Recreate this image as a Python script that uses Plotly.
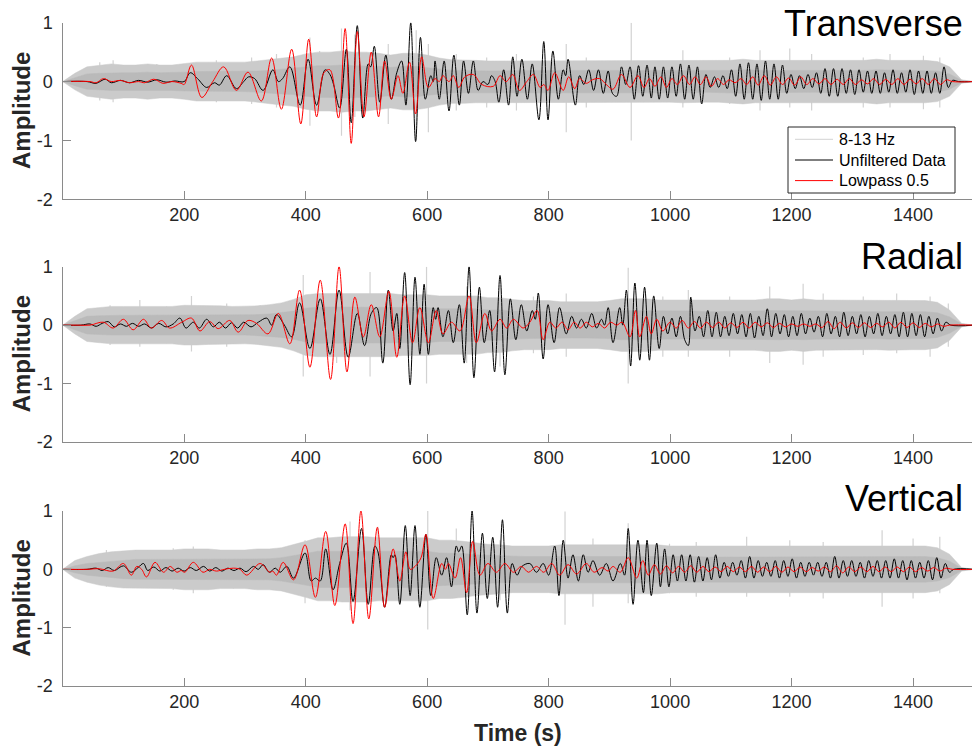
import plotly.graph_objects as go

# ---------------- data ----------------
PANEL_NAMES = ["Transverse", "Radial", "Vertical"]
TIME_TICKS = [200, 400, 600, 800, 1000, 1200, 1400]
AMP_TICKS = [-2, -1, 0, 1]
LEGEND_NAMES = ["8-13 Hz", "Unfiltered Data", "Lowpass 0.5"]

# 8-13 Hz trace, read as half-widths of its dense gray band every 20 s:
# OUTER = light outer fringe, CORE = darker inner core
ENV_T = list(range(0, 1501, 20))
TRANS_OUTER = [0, 0.14, 0.25, 0.27, 0.3, 0.28, 0.28, 0.3, 0.28, 0.28,
               0.3, 0.33, 0.33, 0.33, 0.33, 0.33, 0.35, 0.37, 0.4, 0.42,
               0.47, 0.5, 0.5, 0.52, 0.5, 0.5, 0.48, 0.45, 0.48, 0.48,
               0.45, 0.4, 0.37, 0.37, 0.36, 0.35, 0.35, 0.36, 0.36, 0.36,
               0.36, 0.36, 0.36, 0.35, 0.36, 0.36, 0.36, 0.36, 0.35, 0.35,
               0.35, 0.36, 0.36, 0.35, 0.35, 0.36, 0.38, 0.36, 0.36, 0.36,
               0.36, 0.35, 0.35, 0.36, 0.36, 0.36, 0.36, 0.38, 0.36, 0.36,
               0.36, 0.36, 0.34, 0.25, 0.03, 0]
TRANS_CORE = [0, 0.07, 0.13, 0.14, 0.15, 0.15, 0.15, 0.16, 0.15, 0.15,
              0.16, 0.17, 0.17, 0.17, 0.17, 0.17, 0.18, 0.19, 0.21, 0.22,
              0.25, 0.27, 0.27, 0.28, 0.27, 0.27, 0.26, 0.24, 0.26, 0.26,
              0.24, 0.21, 0.19, 0.19, 0.18, 0.18, 0.18, 0.19, 0.19, 0.19,
              0.19, 0.19, 0.19, 0.18, 0.19, 0.19, 0.19, 0.19, 0.18, 0.18,
              0.18, 0.19, 0.19, 0.18, 0.18, 0.19, 0.2, 0.19, 0.19, 0.19,
              0.19, 0.18, 0.18, 0.19, 0.19, 0.19, 0.19, 0.2, 0.19, 0.19,
              0.19, 0.19, 0.18, 0.13, 0.02, 0]
RADIAL_OUTER = [0, 0.15, 0.28, 0.3, 0.32, 0.32, 0.32, 0.32, 0.32, 0.32,
                0.34, 0.34, 0.33, 0.33, 0.32, 0.32, 0.33, 0.35, 0.38, 0.44,
                0.52, 0.54, 0.54, 0.54, 0.54, 0.54, 0.54, 0.54, 0.52, 0.52,
                0.52, 0.5, 0.5, 0.5, 0.5, 0.47, 0.47, 0.44, 0.42, 0.42,
                0.42, 0.4, 0.4, 0.4, 0.4, 0.42, 0.45, 0.45, 0.45, 0.43,
                0.43, 0.43, 0.43, 0.42, 0.42, 0.42, 0.43, 0.43, 0.45, 0.45,
                0.43, 0.45, 0.43, 0.43, 0.42, 0.42, 0.42, 0.42, 0.43, 0.43,
                0.42, 0.42, 0.39, 0.26, 0.03, 0]
RADIAL_CORE = [0, 0.08, 0.15, 0.16, 0.17, 0.17, 0.17, 0.17, 0.17, 0.17,
               0.18, 0.18, 0.18, 0.18, 0.17, 0.17, 0.18, 0.19, 0.21, 0.24,
               0.29, 0.31, 0.31, 0.31, 0.31, 0.31, 0.31, 0.31, 0.3, 0.3,
               0.3, 0.28, 0.28, 0.28, 0.28, 0.26, 0.26, 0.24, 0.23, 0.23,
               0.23, 0.22, 0.22, 0.22, 0.22, 0.23, 0.25, 0.25, 0.25, 0.24,
               0.24, 0.24, 0.24, 0.23, 0.23, 0.23, 0.24, 0.24, 0.25, 0.25,
               0.24, 0.25, 0.24, 0.24, 0.23, 0.23, 0.23, 0.23, 0.24, 0.24,
               0.23, 0.23, 0.21, 0.14, 0.02, 0]
VERT_OUTER = [0, 0.15, 0.22, 0.27, 0.3, 0.32, 0.33, 0.33, 0.33, 0.33,
              0.35, 0.35, 0.35, 0.33, 0.33, 0.33, 0.35, 0.35, 0.37, 0.42,
              0.48, 0.54, 0.54, 0.56, 0.56, 0.56, 0.54, 0.54, 0.54, 0.54,
              0.54, 0.5, 0.5, 0.48, 0.45, 0.43, 0.42, 0.4, 0.4, 0.4,
              0.4, 0.42, 0.42, 0.42, 0.42, 0.42, 0.42, 0.42, 0.42, 0.42,
              0.4, 0.4, 0.4, 0.39, 0.39, 0.4, 0.4, 0.4, 0.4, 0.4,
              0.4, 0.4, 0.4, 0.4, 0.4, 0.4, 0.4, 0.4, 0.4, 0.4,
              0.4, 0.4, 0.37, 0.26, 0.03, 0]
VERT_CORE = [0, 0.06, 0.1, 0.12, 0.14, 0.16, 0.17, 0.17, 0.17, 0.17,
             0.18, 0.18, 0.18, 0.17, 0.17, 0.17, 0.18, 0.18, 0.2, 0.23,
             0.27, 0.31, 0.31, 0.32, 0.32, 0.32, 0.31, 0.31, 0.31, 0.31,
             0.31, 0.28, 0.28, 0.27, 0.25, 0.24, 0.23, 0.22, 0.22, 0.22,
             0.22, 0.23, 0.23, 0.23, 0.23, 0.23, 0.23, 0.23, 0.23, 0.23,
             0.22, 0.22, 0.22, 0.21, 0.21, 0.22, 0.22, 0.22, 0.22, 0.22,
             0.22, 0.22, 0.22, 0.22, 0.22, 0.22, 0.22, 0.22, 0.22, 0.22,
             0.22, 0.22, 0.2, 0.14, 0.02, 0]

# isolated 8-13 Hz spikes: (time, max, min)
TRANS_SPIKES = [(61, 0.33, -0.32), (83, 0.36, -0.35), (108, 0.24, -0.27), (155, 0.3, -0.27),
                (187, 0.27, -0.24), (253, 0.36, -0.35), (311, 0.41, -0.38), (352, 0.47, -0.44),
                (407, 0.75, -0.75), (423, 0.52, -0.49), (459, 0.9, -0.92), (481, 0.8, -0.6),
                (536, 0.64, -0.72), (582, 0.87, -1.0), (602, 0.64, -0.86), (648, 0.47, -0.49),
                (698, 0.41, -0.44), (747, 0.47, -0.49), (829, 0.64, -0.86), (862, 0.41, -0.44),
                (936, 1.0, -1.0), (1021, 0.53, -0.44), (1098, 0.41, -0.38), (1148, 0.53, -0.49),
                (1197, 0.56, -0.44), (1233, 0.47, -0.49), (1318, 0.41, -0.44), (1362, 0.47, -0.44),
                (1417, 0.44, -0.47), (1444, 0.41, -0.44)]
RADIAL_SPIKES = [(78, 0.34, -0.34), (127, 0.43, -0.37), (171, 0.32, -0.31), (212, 0.5, -0.45),
                 (270, 0.37, -0.37), (325, 0.34, -0.34), (369, 0.37, -0.4), (396, 0.86, -0.88),
                 (451, 0.6, -0.65), (506, 0.91, -0.88), (599, 1.0, -1.0), (665, 0.66, -0.65),
                 (720, 0.69, -0.71), (775, 0.49, -0.48), (829, 0.54, -0.54), (931, 0.98, -1.0),
                 (988, 0.49, -0.54), (1030, 0.6, -0.54), (1098, 0.49, -0.54), (1164, 0.66, -0.65),
                 (1219, 0.71, -0.68), (1252, 0.54, -0.54), (1318, 0.49, -0.51), (1373, 0.54, -0.48),
                 (1428, 0.49, -0.54), (1458, 0.37, -0.37)]
VERT_SPIKES = [(72, 0.33, -0.3), (182, 0.36, -0.35), (215, 0.39, -0.41), (281, 0.3, -0.33),
               (358, 0.36, -0.33), (399, 0.5, -0.58), (473, 0.82, -0.7), (519, 0.73, -0.53),
               (601, 1.02, -1.03), (648, 0.7, -0.47), (720, 0.5, -0.53), (827, 0.99, -0.95),
               (873, 0.53, -0.64), (931, 0.79, -0.58), (999, 0.44, -0.41), (1043, 0.47, -0.47),
               (1126, 0.56, -0.47), (1197, 0.5, -0.47), (1252, 0.47, -0.5), (1349, 0.67, -0.64),
               (1400, 0.53, -0.5), (1444, 0.56, -0.41)]

# Unfiltered data: (time, amplitude) turning points
TRANS_RAW = [(0, 0), (40, 0), (55, -0.03), (70, 0.04), (80, -0.02), (95, 0.02), (110, -0.02),
             (125, 0.02), (140, -0.01), (155, 0.03), (170, -0.01), (185, 0.01), (200, 0.0),
             (210, 0.15), (222, 0.05), (237, -0.1), (250, -0.02), (258, -0.06), (270, 0.1),
             (286, -0.12), (298, 0.0), (306, 0.08), (316, 0.05), (330, -0.15), (346, 0.2),
             (355, 0.0), (362, 0.05), (374, 0.25), (391, -0.4), (404, 0.38), (418, -0.4),
             (432, 0.2), (440, 0.12), (446, -0.05), (456, -0.45), (467, 0.55), (475, -0.7),
             (485, 0.95), (494, -0.62), (503, 0.3), (507, 0.25), (513, 0.6), (522, -0.35),
             (532, 0.45), (541, -0.3), (550, 0.15), (558, 0.35), (565, -0.4), (573, 1.0),
             (581, -1.02), (589, 0.75), (597, -0.3), (606, 0.1), (610, 0.0), (613, 0.35),
             (620, -0.3), (628, 0.35), (636, -0.5), (644, 0.45), (653, -0.4), (660, 0.35),
             (668, -0.2), (676, 0.35), (684, -0.15), (692, 0.0), (700, -0.05), (706, 0.1),
             (712, 0.0), (718, -0.35), (726, 0.2), (734, -0.4), (741, 0.42), (748, -0.25),
             (756, 0.38), (765, -0.3), (773, 0.3), (784, -0.65), (792, 0.68), (799, -0.65),
             (807, 0.52), (816, -0.3), (824, 0.2), (828, 0.1), (832, 0.38), (844, -0.4),
             (851, 0.1), (858, -0.05), (866, 0.2), (874, -0.15), (882, 0.2), (890, -0.2),
             (898, 0.18), (905, -0.2), (912, -0.25), (920, 0.25), (927, -0.05), (934, 0.25),
             (941, -0.3), (948, 0.27), (955, -0.25), (962, 0.28), (969, -0.28), (975, 0.25),
             (982, -0.3), (989, 0.25), (996, -0.28), (1003, 0.25), (1010, -0.25), (1017, 0.3),
             (1024, -0.3), (1031, 0.28), (1038, -0.3), (1045, 0.25), (1052, -0.38), (1059, 0.12),
             (1066, -0.1), (1073, 0.08), (1080, -0.1), (1087, 0.1), (1094, -0.12), (1101, 0.2),
             (1108, -0.25), (1115, 0.3), (1122, -0.3), (1129, 0.32), (1136, -0.3), (1143, 0.3),
             (1150, -0.32), (1157, 0.35), (1164, -0.3), (1171, 0.3), (1178, -0.3), (1185, 0.28),
             (1192, -0.2), (1199, 0.12), (1206, -0.12), (1213, 0.1), (1220, -0.12), (1227, 0.12),
             (1234, -0.1), (1241, 0.15), (1248, -0.2), (1255, 0.22), (1262, -0.25), (1269, 0.22),
             (1276, -0.25), (1283, 0.22), (1290, -0.2), (1297, 0.2), (1304, -0.22), (1311, 0.2),
             (1318, -0.18), (1325, 0.18), (1332, -0.2), (1339, 0.18), (1346, -0.2), (1353, 0.15),
             (1360, -0.18), (1367, 0.2), (1374, -0.2), (1381, 0.15), (1388, -0.18), (1395, 0.2),
             (1402, -0.22), (1409, 0.18), (1416, -0.2), (1423, 0.18), (1430, -0.2), (1437, 0.15),
             (1444, -0.2), (1451, 0.25), (1458, -0.1), (1465, 0.02), (1475, 0), (1500, 0)]
RADIAL_RAW = [(0, 0), (30, 0), (45, 0.02), (55, -0.02), (65, 0.03), (75, 0.06), (85, -0.03),
              (95, 0.02), (105, -0.02), (115, 0.03), (125, -0.02), (135, 0.02), (146, -0.05),
              (158, 0.03), (170, -0.03), (182, 0.02), (193, 0.12), (203, -0.05), (215, 0.05),
              (225, -0.05), (237, 0.1), (248, -0.03), (258, 0.05), (268, -0.05), (278, 0.04),
              (288, -0.05), (298, 0.05), (310, -0.03), (322, 0.05), (336, 0.12), (344, 0.0),
              (352, 0.18), (365, 0.0), (377, -0.2), (390, 0.38), (407, -0.4), (424, 0.45),
              (440, -0.5), (455, 0.6), (470, -0.55), (485, 0.2), (497, -0.35), (508, 0.2),
              (517, 0.3), (527, -0.65), (536, 0.6), (544, -0.1), (550, 0.2), (555, -0.4),
              (563, 0.9), (572, -1.02), (580, 0.82), (588, -0.5), (595, 0.7), (602, -0.5),
              (610, 0.3), (614, 0.1), (618, 0.3), (626, -0.2), (635, 0.25), (643, -0.3),
              (653, 0.35), (661, -0.65), (669, 1.0), (677, -0.9), (686, 0.65), (694, -0.3),
              (703, 0.25), (711, -0.8), (720, 0.85), (728, -0.85), (737, 0.45), (746, -0.25),
              (755, 0.35), (764, -0.1), (773, 0.25), (778, 0.1), (783, 0.55), (791, -0.58),
              (799, 0.35), (809, -0.3), (818, 0.3), (829, -0.15), (838, 0.15), (846, -0.05),
              (854, 0.1), (862, -0.05), (871, 0.2), (879, -0.05), (887, 0.1), (892, 0.0),
              (898, 0.3), (906, -0.3), (917, 0.3), (922, 0.0), (928, 0.6), (935, -0.7),
              (942, 0.72), (950, -0.6), (958, 0.65), (966, -0.6), (973, 0.5), (982, -0.4),
              (989, 0.15), (996, -0.15), (1003, 0.12), (1010, -0.2), (1017, 0.15), (1024, -0.25),
              (1030, -0.35), (1034, 0.48), (1041, -0.1), (1048, 0.15), (1055, -0.2), (1062, 0.25),
              (1069, -0.2), (1076, 0.22), (1083, -0.2), (1090, 0.15), (1097, -0.18), (1104, 0.2),
              (1111, -0.15), (1118, 0.18), (1125, -0.2), (1132, 0.2), (1139, -0.22), (1146, 0.15),
              (1153, -0.18), (1160, 0.28), (1167, -0.2), (1174, 0.2), (1181, -0.15), (1188, 0.18),
              (1195, -0.2), (1202, 0.15), (1209, -0.18), (1216, 0.2), (1223, -0.15), (1230, 0.12),
              (1237, -0.12), (1244, 0.15), (1251, -0.2), (1258, 0.2), (1265, -0.15), (1272, 0.15),
              (1279, -0.2), (1286, 0.22), (1293, -0.18), (1300, 0.15), (1307, -0.15), (1314, 0.18),
              (1321, -0.2), (1328, 0.15), (1335, -0.15), (1342, 0.2), (1349, -0.18), (1356, 0.15),
              (1363, -0.15), (1370, 0.18), (1377, -0.2), (1384, 0.22), (1391, -0.2), (1398, 0.2),
              (1405, -0.18), (1412, 0.18), (1419, -0.2), (1426, 0.15), (1433, -0.15), (1440, 0.12),
              (1447, -0.1), (1454, 0.05), (1462, 0.0), (1500, 0)]
VERT_RAW = [(0, 0), (40, 0), (55, 0.02), (65, -0.02), (75, 0.03), (85, -0.02), (100, 0.06),
            (113, -0.05), (124, 0.03), (133, 0.1), (140, -0.02), (150, 0.04), (160, -0.03),
            (170, 0.03), (180, -0.03), (190, 0.02), (200, -0.03), (210, 0.03), (220, -0.02),
            (232, 0.05), (242, -0.03), (252, 0.03), (262, -0.03), (272, 0.02), (282, -0.02),
            (292, 0.02), (302, -0.04), (314, 0.05), (322, 0.0), (330, 0.08), (340, -0.05),
            (350, 0.02), (358, -0.05), (369, 0.05), (380, -0.15), (399, 0.28), (409, -0.2),
            (416, -0.15), (424, -0.2), (433, 0.35), (445, -0.35), (456, 0.1), (467, 0.45),
            (478, -0.55), (492, 0.7), (503, -0.6), (514, 0.4), (519, 0.3), (530, -0.65),
            (541, 0.25), (544, 0.2), (547, 0.25), (555, -0.6), (564, 0.75), (572, -0.45),
            (580, 0.75), (588, -0.65), (598, 0.6), (606, -0.45), (615, 0.2), (624, -0.1),
            (632, 0.2), (640, -0.3), (648, 0.4), (652, 0.3), (657, 0.4), (666, -0.78),
            (674, 1.0), (682, -0.75), (691, 0.62), (699, -0.5), (708, 0.55), (716, -0.65),
            (724, 0.85), (732, -0.75), (740, 0.1), (748, -0.1), (756, 0.05), (769, 0.1),
            (780, -0.05), (791, 0.1), (800, -0.1), (810, 0.4), (817, -0.45), (824, 0.5),
            (832, -0.15), (840, 0.25), (849, -0.2), (857, 0.25), (865, -0.05), (873, 0.15),
            (884, -0.1), (895, 0.1), (906, -0.2), (918, 0.1), (925, -0.1), (931, 0.7),
            (939, -0.6), (947, 0.5), (956, -0.4), (962, 0.5), (969, -0.45), (978, 0.45),
            (984, -0.3), (991, 0.35), (998, -0.3), (1005, 0.25), (1012, -0.2), (1019, 0.25),
            (1026, -0.2), (1033, 0.25), (1040, -0.22), (1047, 0.22), (1054, -0.2), (1061, 0.2),
            (1068, -0.18), (1075, 0.25), (1082, -0.15), (1089, 0.12), (1096, -0.12), (1103, 0.12),
            (1110, -0.1), (1117, 0.15), (1124, -0.15), (1131, 0.22), (1138, -0.15), (1145, 0.15),
            (1152, -0.12), (1159, 0.12), (1166, -0.12), (1173, 0.15), (1180, -0.15), (1187, 0.15),
            (1194, -0.12), (1201, 0.18), (1208, -0.15), (1215, 0.12), (1222, -0.12), (1229, 0.12),
            (1236, -0.1), (1243, 0.12), (1250, -0.12), (1257, 0.12), (1264, -0.15), (1271, 0.22),
            (1278, -0.15), (1285, 0.15), (1292, -0.12), (1299, 0.15), (1306, -0.12), (1313, 0.12),
            (1320, -0.15), (1327, 0.15), (1334, -0.12), (1341, 0.15), (1348, -0.15), (1355, 0.15),
            (1362, -0.15), (1369, 0.18), (1376, -0.15), (1383, 0.15), (1390, -0.18), (1397, 0.15),
            (1404, -0.15), (1411, 0.12), (1418, -0.15), (1425, 0.15), (1432, -0.18), (1439, 0.2),
            (1446, -0.15), (1453, 0.1), (1460, -0.05), (1467, 0), (1500, 0)]

# Lowpass 0.5: (time, amplitude) turning points
TRANS_LP = [(0, 0), (45, 0), (55, -0.02), (67, 0.05), (80, 0.0), (95, 0.02), (110, -0.02),
            (125, 0.0), (135, -0.02), (150, 0.04), (165, -0.03), (180, 0.0), (195, -0.03),
            (200, -0.05), (212, 0.28), (229, -0.27), (247, 0.0), (265, 0.25), (286, -0.15),
            (305, 0.16), (327, -0.33), (344, 0.4), (360, -0.47), (377, 0.55), (392, -0.72),
            (405, 0.72), (418, -0.6), (430, 0.15), (440, 0.2), (454, -0.62), (465, 0.9),
            (475, -1.05), (485, 0.85), (496, -0.6), (508, 0.5), (520, -0.6), (530, 0.35),
            (541, -0.3), (552, 0.1), (560, -0.2), (571, 0.33), (581, -0.55), (591, 0.42),
            (602, -0.1), (613, 0.05), (620, 0.0), (626, 0.1), (636, 0.0), (643, 0.1),
            (652, -0.1), (662, 0.08), (676, 0.12), (690, -0.05), (709, -0.08), (720, 0.1),
            (730, 0.0), (741, 0.12), (752, -0.15), (764, 0.0), (775, 0.12), (786, -0.1),
            (792, -0.05), (799, -0.15), (810, 0.15), (824, -0.15), (833, 0.08), (843, -0.12),
            (851, 0.05), (862, -0.03), (872, 0.03), (884, 0.05), (895, -0.05), (906, -0.13),
            (920, 0.12), (934, -0.1), (947, 0.1), (957, -0.1), (966, 0.05), (975, -0.08),
            (985, 0.08), (994, -0.1), (1003, 0.05), (1012, -0.05), (1022, 0.1), (1032, -0.05),
            (1041, 0.08), (1050, -0.05), (1059, 0.08), (1068, -0.08), (1078, 0.05), (1088, -0.05),
            (1097, 0.03), (1107, -0.02), (1117, 0.05), (1126, -0.05), (1136, 0.08), (1145, -0.06),
            (1155, 0.1), (1165, -0.06), (1175, 0.08), (1185, -0.05), (1195, 0.06), (1205, -0.06),
            (1215, 0.08), (1225, -0.05), (1235, 0.05), (1245, -0.04), (1255, 0.05), (1265, -0.05),
            (1275, 0.04), (1285, -0.05), (1295, 0.05), (1305, -0.05), (1315, 0.03), (1325, -0.04),
            (1335, 0.05), (1345, -0.05), (1355, 0.04), (1365, -0.05), (1375, 0.05), (1385, -0.05),
            (1395, 0.04), (1405, -0.04), (1415, 0.05), (1425, -0.05), (1435, 0.05), (1445, -0.05),
            (1455, 0.03), (1465, 0), (1500, 0)]
RADIAL_LP = [(0, 0), (25, 0), (45, 0.0), (67, 0.05), (83, -0.05), (100, 0.1), (116, -0.08),
             (133, 0.1), (146, -0.05), (163, 0.08), (176, -0.05), (196, 0.05), (212, 0.12),
             (226, -0.1), (242, 0.06), (256, -0.06), (275, 0.08), (289, -0.12), (305, 0.08),
             (319, 0.03), (338, -0.15), (355, 0.2), (374, -0.32), (390, 0.6), (407, -0.72),
             (424, 0.77), (441, -0.93), (455, 1.0), (468, -0.8), (481, 0.48), (495, -0.2),
             (508, 0.35), (522, -0.2), (537, 0.58), (550, -0.55), (563, 0.5), (576, -0.3),
             (588, 0.3), (602, -0.3), (615, 0.25), (626, -0.15), (640, 0.05), (654, -0.1),
             (669, 0.5), (681, -0.3), (695, 0.2), (706, -0.1), (720, 0.1), (731, -0.05),
             (742, 0.1), (758, -0.05), (769, 0.05), (781, 0.25), (791, -0.25), (802, 0.05),
             (812, -0.05), (822, 0.05), (832, -0.08), (842, 0.05), (852, -0.05), (862, 0.05),
             (872, -0.03), (882, 0.03), (892, -0.05), (902, 0.05), (912, 0.0), (921, 0.05),
             (934, -0.2), (943, 0.25), (950, -0.2), (961, 0.15), (969, -0.15), (978, 0.1),
             (988, -0.1), (1000, 0.05), (1010, -0.05), (1020, 0.08), (1030, -0.05), (1040, 0.06),
             (1050, -0.05), (1060, 0.05), (1070, -0.04), (1080, 0.05), (1090, -0.05), (1100, 0.04),
             (1110, -0.04), (1120, 0.05), (1130, -0.05), (1140, 0.05), (1150, -0.03), (1160, 0.04),
             (1170, -0.04), (1180, 0.03), (1190, -0.03), (1200, 0.02), (1210, -0.02), (1220, 0.02),
             (1230, -0.02), (1240, 0.02), (1250, -0.04), (1260, 0.06), (1270, -0.06), (1280, 0.05),
             (1290, -0.05), (1300, 0.04), (1310, -0.04), (1320, 0.04), (1330, -0.04), (1340, 0.03),
             (1350, -0.03), (1360, 0.05), (1370, -0.05), (1380, 0.05), (1390, -0.04), (1400, 0.04),
             (1410, -0.04), (1420, 0.03), (1430, -0.03), (1440, 0.02), (1450, -0.02), (1460, 0),
             (1500, 0)]
VERT_LP = [(0, 0), (40, 0), (60, 0.01), (83, -0.03), (100, 0.1), (113, -0.1), (122, 0.05),
           (130, 0.0), (138, -0.13), (152, 0.12), (166, -0.05), (177, 0.05), (188, -0.05),
           (195, -0.02), (201, -0.05), (215, 0.12), (231, -0.05), (242, 0.0), (253, -0.03),
           (266, 0.0), (281, 0.02), (292, 0.0), (303, -0.1), (325, 0.1), (341, -0.05),
           (346, -0.03), (352, -0.1), (363, 0.12), (380, -0.18), (399, 0.42), (416, -0.48),
           (433, 0.65), (448, -0.62), (465, 0.78), (478, -0.93), (491, 1.0), (504, -0.85),
           (518, 0.72), (530, -0.65), (544, 0.35), (555, -0.2), (565, 0.3), (572, 0.0),
           (580, 0.05), (590, 0.2), (598, 0.6), (610, -0.5), (624, 0.1), (630, 0.0),
           (635, 0.1), (646, -0.15), (655, 0.2), (665, -0.4), (675, 0.48), (687, -0.1),
           (700, 0.1), (714, -0.05), (728, 0.1), (742, -0.05), (755, 0.05), (767, -0.05),
           (780, 0.05), (792, -0.05), (805, 0.1), (818, -0.1), (832, 0.08), (846, -0.08),
           (862, 0.1), (875, -0.05), (888, 0.03), (898, -0.03), (906, 0.05), (918, -0.05),
           (931, 0.2), (945, -0.15), (955, 0.15), (964, -0.1), (974, 0.08), (984, -0.08),
           (994, 0.06), (1004, -0.06), (1014, 0.05), (1024, -0.05), (1034, 0.06), (1044, -0.05),
           (1054, 0.05), (1064, -0.04), (1074, 0.04), (1084, -0.04), (1094, 0.05), (1104, -0.04),
           (1114, 0.04), (1124, -0.04), (1134, 0.05), (1144, -0.05), (1154, 0.04), (1164, -0.04),
           (1174, 0.05), (1184, -0.05), (1194, 0.04), (1204, -0.04), (1214, 0.04), (1224, -0.04),
           (1234, 0.03), (1244, -0.03), (1254, 0.04), (1264, -0.04), (1274, 0.06), (1284, -0.06),
           (1294, 0.04), (1304, -0.04), (1314, 0.04), (1324, -0.04), (1334, 0.05), (1344, -0.04),
           (1354, 0.04), (1364, -0.04), (1374, 0.04), (1384, -0.04), (1394, 0.04), (1404, -0.04),
           (1414, 0.03), (1424, -0.03), (1434, 0.03), (1444, -0.03), (1454, 0.02), (1465, 0),
           (1500, 0)]

PANELS = [
    (TRANS_OUTER, TRANS_CORE, TRANS_SPIKES, TRANS_RAW, TRANS_LP),
    (RADIAL_OUTER, RADIAL_CORE, RADIAL_SPIKES, RADIAL_RAW, RADIAL_LP),
    (VERT_OUTER, VERT_CORE, VERT_SPIKES, VERT_RAW, VERT_LP),
]

# ---------------- layout geometry (pixels) ----------------
W, H = 972, 749
X_LEFT = 63.3
PANEL_PIX = [(22.7, 199.3), (266.7, 442.0), (511.0, 686.0)]
TITLE_Y = [23, 256, 498]

FONT = "Liberation Sans, Arial, Helvetica, sans-serif"
AX_LINE = "#8a8a8a"
TXT = "#262626"
GRAY_CORE = "rgb(186,186,186)"
GRAY_OUTER = "rgb(203,203,203)"
GRAY_LINE = "rgb(210,210,210)"
LINE_COLORS = [GRAY_LINE, "black", "red"]

fig = go.Figure()

for i, (outer, core, spikes, raw, lp) in enumerate(PANELS):
    xa = "x" if i == 0 else f"x{i+1}"
    ya = "y" if i == 0 else f"y{i+1}"
    sx, sy = [], []
    for t, hi, lo in spikes:
        sx += [t, t, None]
        sy += [hi, lo, None]
    fig.add_trace(go.Scatter(x=sx, y=sy, mode="lines", xaxis=xa, yaxis=ya,
                             line=dict(color=GRAY_LINE, width=1.2),
                             name=LEGEND_NAMES[0], showlegend=False, hoverinfo="skip"))
    bx = ENV_T + ENV_T[::-1]
    for env, col in ((outer, GRAY_OUTER), (core, GRAY_CORE)):
        by = list(env) + [-v for v in env[::-1]]
        fig.add_trace(go.Scatter(x=bx, y=by, mode="lines", fill="toself", xaxis=xa, yaxis=ya,
                                 fillcolor=col, line=dict(color=col, width=0.5),
                                 name=LEGEND_NAMES[0], showlegend=False, hoverinfo="skip"))
    fig.add_trace(go.Scatter(x=[p[0] for p in raw], y=[p[1] for p in raw], mode="lines",
                             xaxis=xa, yaxis=ya, line=dict(color="black", width=1, shape="spline"),
                             name=LEGEND_NAMES[1], showlegend=False))
    fig.add_trace(go.Scatter(x=[p[0] for p in lp], y=[p[1] for p in lp], mode="lines",
                             xaxis=xa, yaxis=ya, line=dict(color="red", width=1, shape="spline"),
                             name=LEGEND_NAMES[2], showlegend=False))

axis_common = dict(showline=True, linecolor=AX_LINE, linewidth=1, showgrid=False,
                   zeroline=False, ticks="inside", ticklen=8, tickwidth=1, tickcolor=AX_LINE,
                   automargin=False,
                   tickfont=dict(family=FONT, size=18, color=TXT))

layout = {}
for i, (top, bot) in enumerate(PANEL_PIX):
    xk = "xaxis" if i == 0 else f"xaxis{i+1}"
    yk = "yaxis" if i == 0 else f"yaxis{i+1}"
    ya = "y" if i == 0 else f"y{i+1}"
    xa = "x" if i == 0 else f"x{i+1}"
    layout[xk] = dict(axis_common, domain=[X_LEFT / W, 1.0], range=[1, 1497], anchor=ya,
                      tickvals=TIME_TICKS, ticklabelstandoff=-1)
    layout[yk] = dict(axis_common, domain=[1 - bot / H, 1 - top / H], range=[-2, 1], anchor=xa,
                      tickvals=AMP_TICKS, ticktext=[str(v) for v in AMP_TICKS],
                      ticklabelstandoff=6)

annotations = []
for i, (top, bot) in enumerate(PANEL_PIX):
    annotations.append(dict(text=PANEL_NAMES[i], xref="paper", yref="paper",
                            x=965 / W, y=1 - TITLE_Y[i] / H, xanchor="right", yanchor="middle",
                            showarrow=False, font=dict(family=FONT, size=36, color="black")))
    annotations.append(dict(text="<b>Amplitude</b>", xref="paper", yref="paper",
                            x=21 / W, y=1 - (top + bot) / 2 / H, xanchor="center", yanchor="middle",
                            textangle=-90, showarrow=False,
                            font=dict(family=FONT, size=24, color=TXT)))
annotations.append(dict(text="<b>Time (s)</b>", xref="paper", yref="paper",
                        x=(X_LEFT + W) / 2 / W, y=1 - 733 / H, xanchor="center", yanchor="middle",
                        showarrow=False, font=dict(family=FONT, size=23, color=TXT)))

# legend box (drawn in the first panel)
LEG_BOX = (788, 127, 955, 193)
LEG_ROWS = [139.3, 160.0, 180.6]
shapes = [dict(type="rect", xref="paper", yref="paper",
               x0=LEG_BOX[0] / W, x1=LEG_BOX[2] / W, y0=1 - LEG_BOX[3] / H, y1=1 - LEG_BOX[1] / H,
               line=dict(color=TXT, width=1), fillcolor="white", layer="above")]
for name, col, yy in zip(LEGEND_NAMES, LINE_COLORS, LEG_ROWS):
    shapes.append(dict(type="line", xref="paper", yref="paper", x0=795 / W, x1=833 / W,
                       y0=1 - yy / H, y1=1 - yy / H, line=dict(color=col, width=1), layer="above"))
    annotations.append(dict(text=name, xref="paper", yref="paper", x=837 / W, y=1 - yy / H,
                            xanchor="left", yanchor="middle", showarrow=False,
                            font=dict(family=FONT, size=16, color="black")))

fig.update_layout(
    width=W, height=H, margin=dict(l=0, r=0, t=0, b=0, autoexpand=False),
    paper_bgcolor="white", plot_bgcolor="white",
    showlegend=False,
    annotations=annotations, shapes=shapes,
    **layout,
)

fig.write_html("out.html")
